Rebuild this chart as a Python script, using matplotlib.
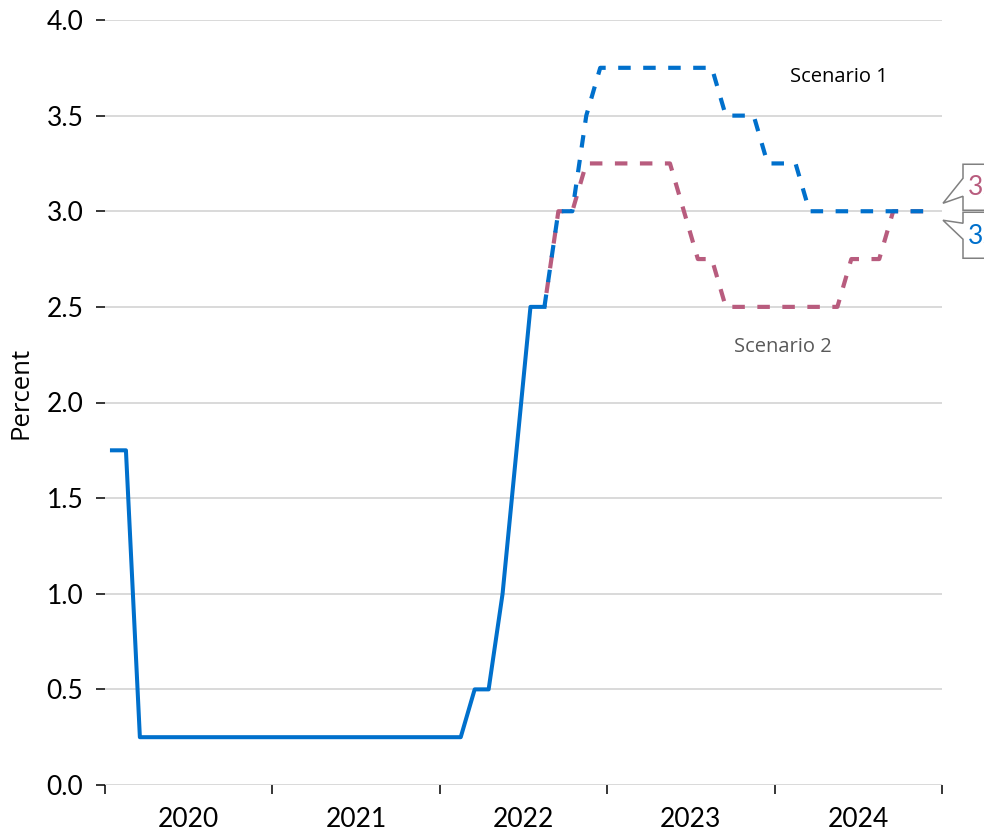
import numpy as np
import matplotlib
matplotlib.use("Agg")
import matplotlib.pyplot as plt
from matplotlib.patches import Polygon
from matplotlib.transforms import IdentityTransform

# datos mensuales (valor a mitad de mes)
policy_start = 2020
policy = [1.75, 1.75] + [0.25] * 10 + [0.25] * 12 + [0.25, 0.25, 0.5, 0.5, 1.0, 1.75, 2.5, 2.5]

scen_start = 2022 + 7 / 12  # agosto 2022
scenario1 = [2.5, 3.0, 3.0, 3.5, 3.75] + [3.75] * 8 + [3.5, 3.5, 3.5, 3.25] + [3.25, 3.25] + [3.0] * 10
scenario2 = [2.5, 3.0, 3.0, 3.25, 3.25] + [3.25] * 5 + [3.0, 2.75, 2.75, 2.5, 2.5, 2.5, 2.5] \
    + [2.5] * 5 + [2.75, 2.75, 2.75, 3.0, 3.0, 3.0, 3.0]

years = [2020, 2021, 2022, 2023, 2024]
yticks = [0.0, 0.5, 1.0, 1.5, 2.0, 2.5, 3.0, 3.5, 4.0]
end_labels = ["3.0", "3.0"]

blue = "#0070CC"
pink = "#B85C7E"
grid_c = "#D0D0D0"

x_pol = policy_start + (np.arange(len(policy)) + 0.5) / 12
x_s1 = scen_start + (np.arange(len(scenario1)) + 0.5) / 12
x_s2 = scen_start + (np.arange(len(scenario2)) + 0.5) / 12

fig = plt.figure(figsize=(9.84, 8.32), dpi=100)
ax = fig.add_axes([105 / 984, 47 / 832, 837 / 984, 765 / 832])
ax.set_xlim(2020, 2025)
ax.set_ylim(0, 4)

# alinear la fase de los trazos donde las dos series se juntan al final
lw_d = 3.0
dash = (3.0, 3.0)
period = sum(dash) * lw_d


def path_len(x, y, n):
    p = ax.transData.transform(np.column_stack([x[:n + 1], y[:n + 1]]))
    return np.sum(np.hypot(np.diff(p[:, 0]), np.diff(p[:, 1]))) * 72 / fig.dpi


k = 25  # septiembre 2024
off = (path_len(x_s1, scenario1, k) - path_len(x_s2, scenario2, k)) % period

ax.plot(x_s2, scenario2, color=pink, lw=lw_d, linestyle=(off / lw_d, dash), zorder=3)
ax.plot(x_s1, scenario1, color=blue, lw=lw_d, linestyle=(0, dash), zorder=4)
ax.plot(x_pol, policy, color=blue, lw=2.9, zorder=5)

ax.set_yticks(yticks)
ax.set_yticklabels(["%.1f" % v for v in yticks], fontfamily="Lato", fontsize=19)
ax.yaxis.grid(True, color=grid_c, lw=1.1)
ax.set_axisbelow(True)
for s in ax.spines.values():
    s.set_visible(False)
ax.tick_params(axis="y", length=6.5, width=1.1, color="black", pad=9)

ax.set_xticks([y + 1 for y in years] + [2020], minor=True)
ax.set_xticks([y + 0.5 for y in years])
ax.set_xticklabels([str(y) for y in years], fontfamily="Lato", fontsize=19)
ax.tick_params(axis="x", which="major", length=0, pad=15.5)
ax.tick_params(axis="x", which="minor", length=6.5, width=1.1, color="black")

ax.set_ylabel("Percent", fontfamily="Open Sans", fontsize=18.5)
ax.yaxis.set_label_coords(-0.085, 0.513)

ax.text(2024.385, 3.70, "Scenario 1", fontfamily="Open Sans", fontsize=14.5,
        color="black", ha="center", va="center")
ax.text(2024.05, 2.29, "Scenario 2", fontfamily="Open Sans", fontsize=14.5,
        color="#595959", ha="center", va="center")

# etiquetas tipo globo al final de las series
fig.canvas.draw()
tx, ty = ax.transAxes.transform((1.0, 0.0))[0], ax.transData.transform((2025, 3.0))[1]
H = 832
bx = tx + 21
upper = [(bx + 40, ty + 47), (bx, ty + 47), (bx, ty + 33), (tx + 1, ty + 8),
         (bx, ty + 15), (bx, ty + 1), (bx + 40, ty + 1)]
lower = [(bx + 40, ty - 1), (bx, ty - 1), (bx, ty - 12), (tx + 1, ty - 9),
         (bx, ty - 28), (bx, ty - 47), (bx + 40, ty - 47)]
for pts in (upper, lower):
    fig.add_artist(Polygon(pts, closed=False, fill=False, edgecolor="#808080",
                           lw=1.1, transform=IdentityTransform(), clip_on=False))
fig.text((bx + 5) / 984, (ty + 24) / H, end_labels[1], color=pink, fontfamily="Lato",
         fontsize=19, ha="left", va="center")
fig.text((bx + 5) / 984, (ty - 25) / H, end_labels[0], color=blue, fontfamily="Lato",
         fontsize=19, ha="left", va="center")

fig.savefig("out.png", dpi=100)
